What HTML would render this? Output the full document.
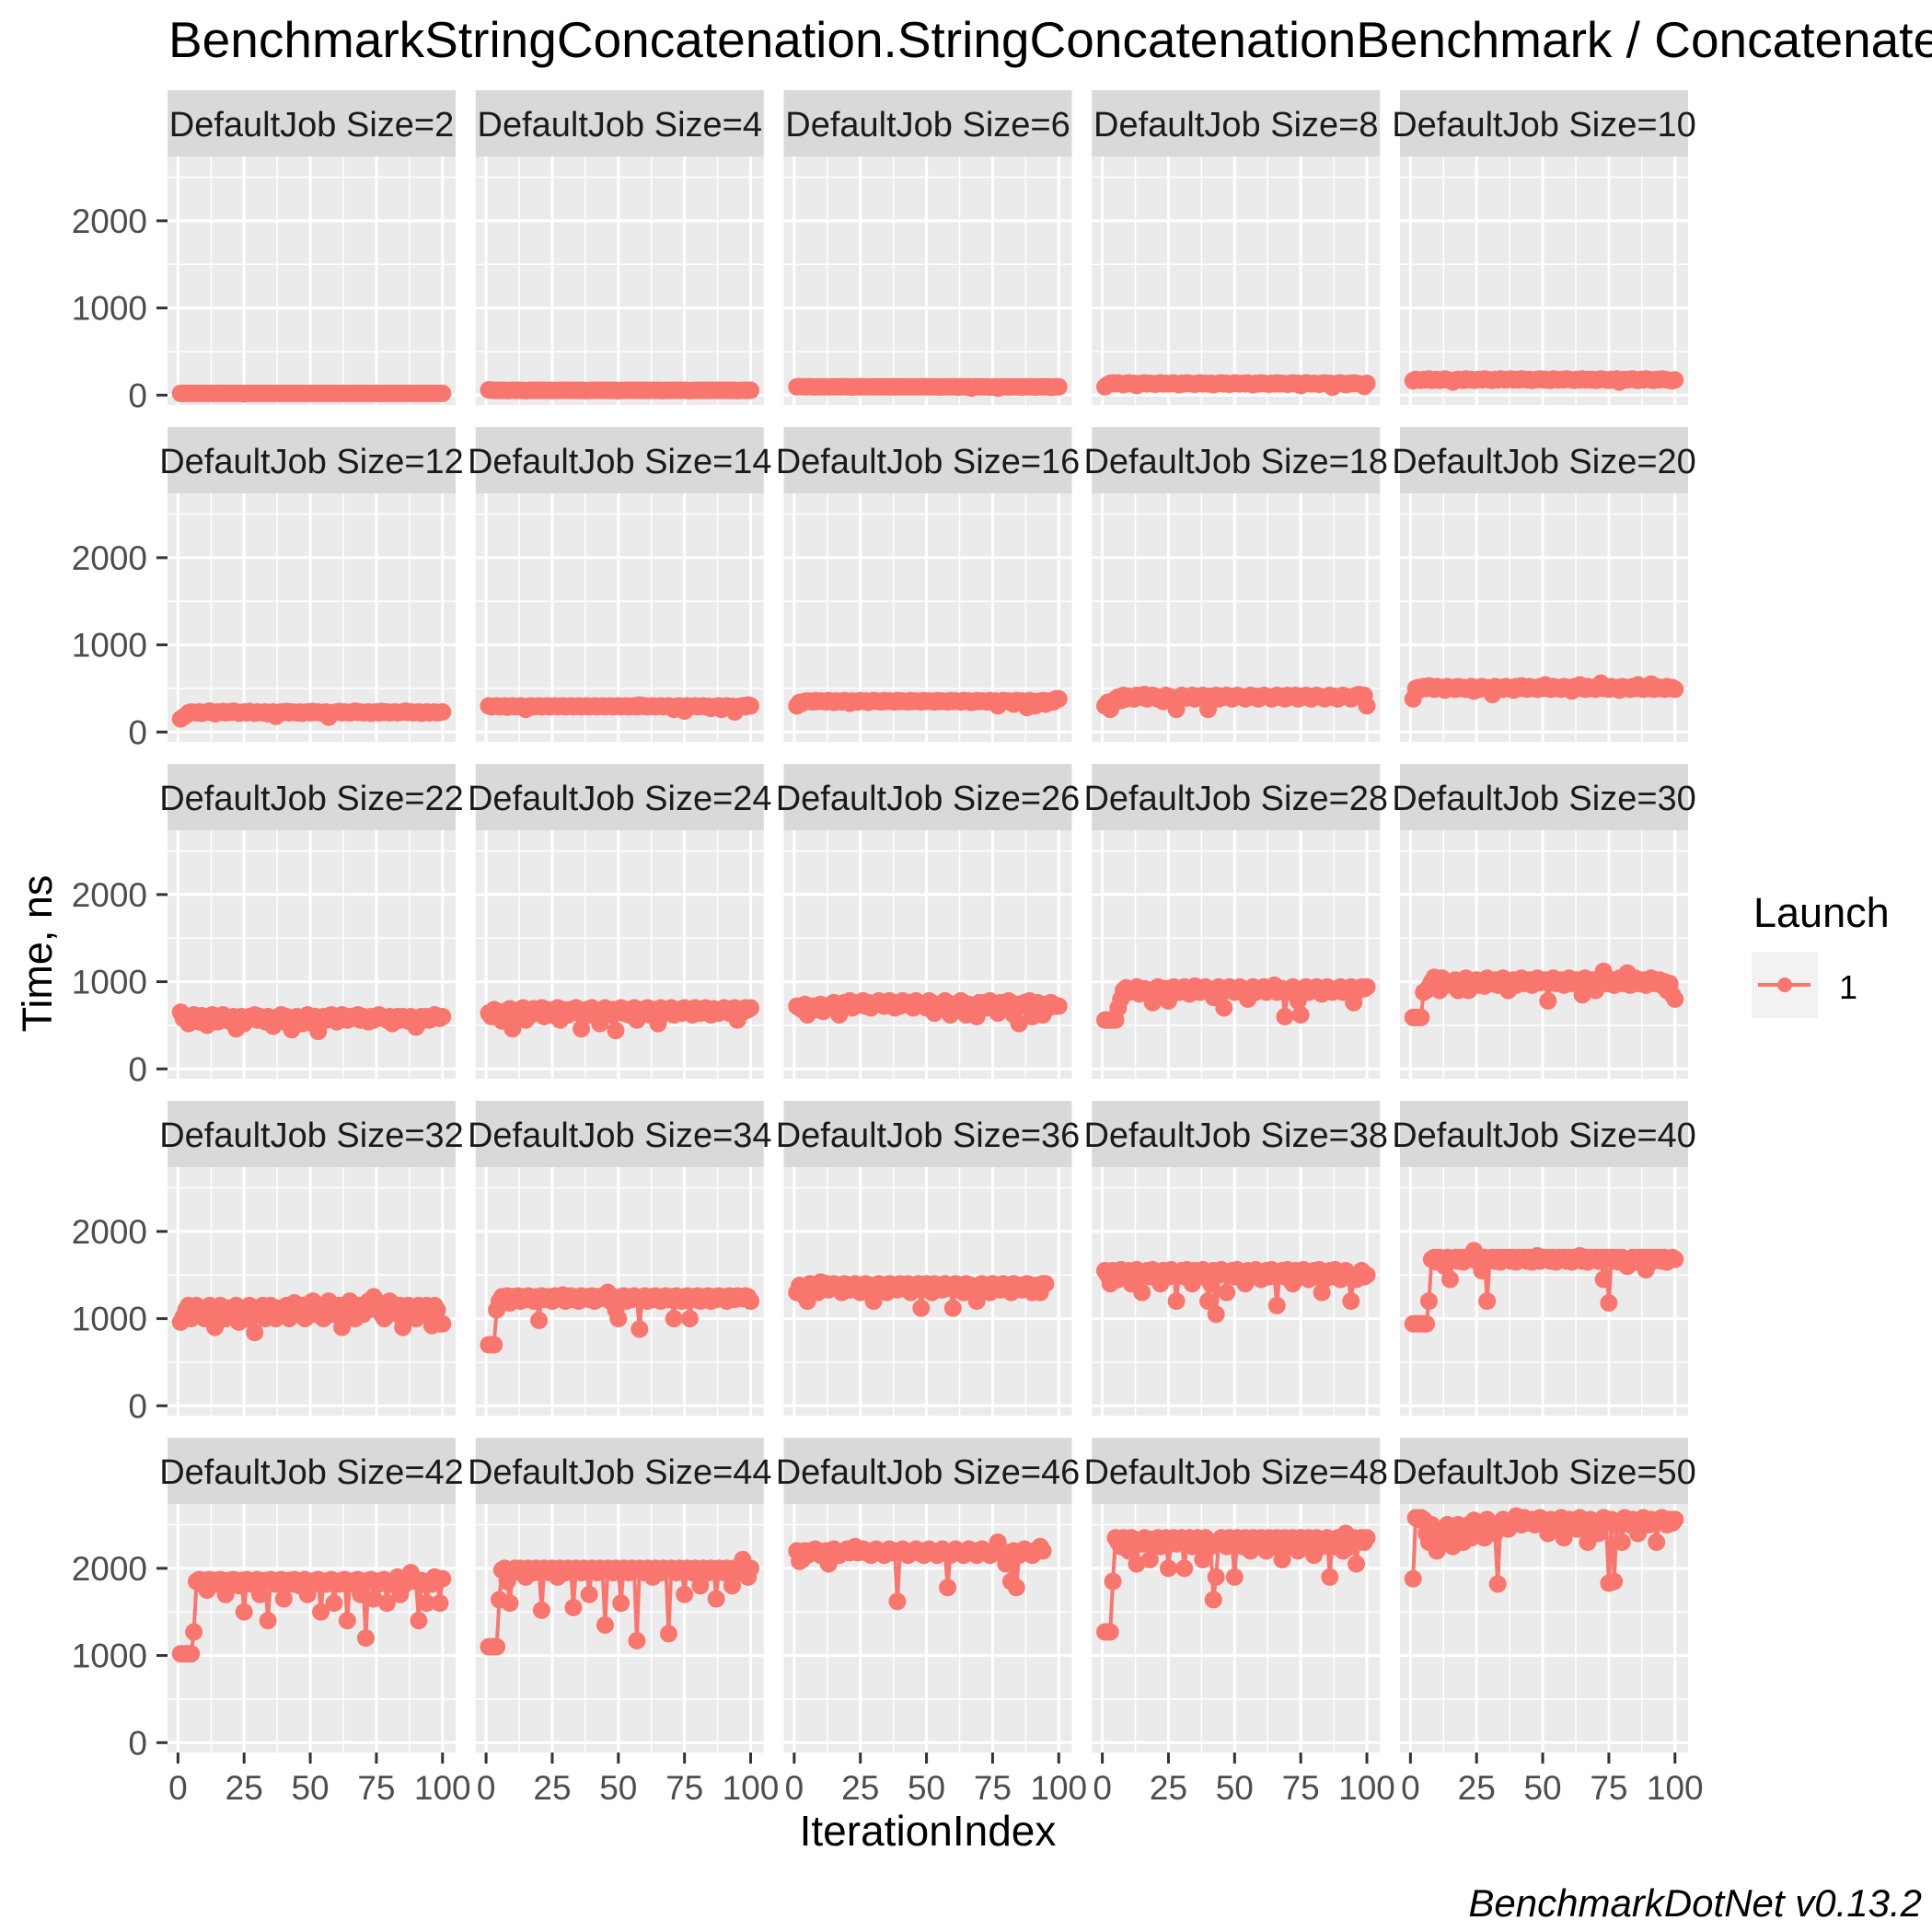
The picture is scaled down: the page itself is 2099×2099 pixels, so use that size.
<!DOCTYPE html>
<html><head><meta charset="utf-8"><style>
html,body{margin:0;padding:0;background:#fff;}
svg{display:block;font-family:"Liberation Sans",Arial,sans-serif;}
</style></head><body>
<svg id="chart" width="2099" height="2099" viewBox="0 0 2099 2099" xmlns="http://www.w3.org/2000/svg">
<rect x="0" y="0" width="2099" height="2099" fill="#fff"/>
<text x="183" y="62" font-size="55" fill="#000">BenchmarkStringConcatenation.StringConcatenationBenchmark / ConcatenateStringsWithPlus</text>
<g id="panels"></g>
<text transform="translate(56,1036) rotate(-90)" text-anchor="middle" font-size="45" fill="#000">Time, ns</text>
<text x="1008" y="2005" text-anchor="middle" font-size="46" fill="#000">IterationIndex</text>
<g>
<text x="1905" y="1007" font-size="45" fill="#000">Launch</text>
<rect x="1903" y="1034" width="72" height="72" fill="#F2F2F2"/>
<line x1="1910" y1="1070" x2="1967" y2="1070" stroke="#F8766D" stroke-width="4"/>
<circle cx="1939" cy="1070" r="8" fill="#F8766D"/>
<text x="1998" y="1085" font-size="36" fill="#000">1</text>
</g>
<text x="2088" y="2082" text-anchor="end" font-size="42" font-style="italic" fill="#000">BenchmarkDotNet v0.13.2</text>
</svg>
<script>
const sizes = [2,4,6,8,10,12,14,16,18,20,22,24,26,28,30,32,34,36,38,40,42,44,46,48,50];
const yTicks = [0,1000,2000];
const yTickLabels = ["0","1000","2000"];
const xTicks = [0,25,50,75,100];
const xTickLabels = ["0","25","50","75","100"];
const s2 = [20,20,21,20,20,20,21,20,20,20,20,20,20,20,20,20,21,20,20,20,20,20,20,20,15,20,20,20,20,20,20,20,20,20,20,20,20,20,20,20,20,20,20,20,20,20,20,20,20,20,20,20,20,20,20,20,20,20,20,20,20,20,20,20,20,20,20,20,20,20,20,20,20,20,20,20,20,20,20,20,20,20,20,20,20,20,20,20,20,20,20,20,20,20,20,20,20,20,20,20];
const s4 = [60,58,55,55,54,56,55,52,55,56,55,54,55,55,50,55,55,56,55,55,54,55,55,55,52,55,55,55,56,55,55,54,55,55,55,55,55,52,55,55,56,55,55,55,54,55,55,55,55,50,55,55,55,55,56,55,55,55,55,55,54,55,55,55,55,55,52,55,55,55,55,56,55,55,55,55,50,55,55,55,55,55,55,54,55,55,55,55,56,55,55,55,55,55,52,55,55,55,55,56];
const s6 = [95,98,96,95,95,97,95,93,95,96,95,95,94,95,96,95,95,95,97,95,95,92,95,96,95,95,95,94,95,95,96,95,95,95,95,93,95,95,96,95,95,95,95,95,94,95,95,95,96,95,95,95,95,95,92,95,95,95,95,95,95,90,95,95,95,95,80,95,95,95,95,94,95,92,95,95,80,95,95,95,93,95,95,95,95,90,95,95,95,95,92,95,95,95,95,95,88,95,95,95];
const s8 = [95,120,135,140,130,140,130,120,135,140,130,135,110,130,135,140,130,135,130,125,135,140,130,135,130,135,140,130,120,135,130,140,135,130,125,135,140,130,135,130,135,120,130,135,140,130,135,125,130,140,135,130,135,130,140,130,120,135,130,140,135,130,125,135,130,140,130,135,130,125,135,140,130,135,110,130,140,135,130,135,130,125,135,140,130,135,90,130,135,140,130,120,135,130,140,135,130,125,100,135];
const s10 = [165,180,175,170,180,175,185,170,175,180,170,175,185,175,170,150,175,180,175,170,185,175,180,170,175,180,175,185,180,175,170,180,175,185,180,175,180,185,175,180,175,185,180,175,180,170,175,180,185,175,180,175,170,185,180,175,180,175,185,180,175,170,180,175,185,175,180,175,180,170,175,185,180,175,170,180,175,185,150,175,180,175,180,185,175,170,180,175,185,180,175,170,180,175,185,180,175,170,165,175];
const s12 = [150,170,190,220,230,225,220,230,215,225,230,240,220,210,230,225,235,220,230,225,240,230,215,225,230,220,235,225,215,230,225,220,230,210,225,230,180,220,230,225,235,220,230,225,220,230,215,225,230,220,235,225,230,220,225,230,170,220,225,230,235,220,230,225,220,230,240,225,230,220,225,230,215,225,230,220,235,225,230,220,225,230,220,225,230,240,225,230,220,225,230,215,225,230,220,225,230,220,225,230];
const s14 = [300,290,295,300,290,295,300,285,295,300,290,295,300,290,260,295,300,290,295,300,290,295,300,290,295,300,290,295,300,290,295,300,290,295,300,290,295,300,290,295,300,290,295,300,290,295,300,290,295,300,290,295,300,290,295,300,290,310,295,300,290,295,300,290,295,300,290,295,300,290,260,295,300,290,240,300,290,295,300,290,295,300,290,295,270,290,295,300,260,295,300,290,295,230,290,295,300,290,310,300];
const s16 = [300,340,330,350,355,350,345,360,350,355,350,345,360,350,340,355,350,345,360,350,330,355,350,345,360,350,355,340,350,360,355,350,345,360,350,355,350,345,360,350,355,350,345,360,350,355,350,345,360,350,355,350,345,360,350,355,350,345,360,350,355,350,345,360,350,355,340,345,360,350,355,350,345,360,350,355,300,345,360,350,355,350,320,360,350,355,350,280,360,350,300,350,345,360,320,355,350,345,380,380];
const s18 = [300,340,260,320,380,400,360,420,380,410,400,380,420,410,400,430,380,400,420,410,380,400,350,420,410,400,380,260,400,420,410,390,400,420,380,410,400,420,380,260,410,400,420,380,410,400,420,410,380,400,420,410,400,380,410,420,400,410,380,400,420,410,400,380,410,420,400,410,380,420,400,410,420,380,410,400,420,410,380,400,420,410,400,380,410,420,400,410,380,400,420,410,400,380,410,420,430,400,420,300];
const s20 = [380,500,510,490,520,500,530,510,490,520,500,510,480,520,500,510,490,520,500,510,490,500,520,470,510,490,520,500,510,490,430,520,500,510,490,520,500,510,480,520,500,530,510,490,520,500,510,490,520,500,540,510,490,520,500,510,490,520,500,510,470,520,500,540,510,490,520,500,510,490,520,560,500,510,490,520,500,510,480,520,500,510,490,520,500,540,510,490,520,500,550,490,520,500,510,490,520,500,510,490];
const s22 = [650,580,600,520,560,620,600,540,610,580,500,600,620,580,540,600,620,560,590,540,600,460,580,600,520,560,600,580,620,560,600,580,540,600,560,490,580,600,620,540,600,560,450,590,600,580,520,600,620,560,520,600,430,580,600,560,600,620,580,540,600,620,580,560,600,580,600,620,560,600,580,540,600,560,580,620,600,580,560,600,520,580,600,560,600,580,550,600,560,480,580,600,560,600,560,580,620,600,580,600];
const s24 = [640,600,680,650,620,550,660,640,690,460,650,620,680,700,560,650,620,690,660,640,700,600,680,660,620,650,700,560,680,640,620,680,650,700,640,460,650,680,620,700,660,640,520,680,700,650,620,680,440,660,700,640,680,620,650,700,560,680,660,640,700,620,680,650,520,700,680,640,660,700,620,650,680,640,700,660,680,620,700,650,640,680,700,660,620,690,650,640,680,700,660,640,690,700,560,680,650,700,680,700];
const s26 = [720,700,680,740,620,700,720,700,680,740,660,700,720,740,760,700,620,720,760,740,780,700,720,760,740,780,720,760,700,740,760,780,740,720,760,780,740,700,760,720,780,740,760,720,700,780,760,740,720,700,780,760,640,740,700,720,780,760,620,740,720,700,780,760,620,740,700,720,600,760,740,760,700,780,760,720,640,760,740,700,780,760,620,740,520,720,760,740,780,600,700,760,720,620,740,700,760,740,720,720];
const s28 = [560,560,560,560,560,700,800,900,930,880,900,920,940,860,900,920,880,900,760,920,940,900,880,920,780,900,940,920,880,900,940,920,860,900,950,920,880,900,940,920,880,820,900,940,920,700,900,940,920,880,900,940,920,860,800,920,940,880,900,920,940,880,900,920,960,880,900,920,600,880,900,940,920,780,620,920,940,880,900,920,940,880,860,900,940,920,880,900,920,940,880,900,920,940,760,880,920,940,920,940];
const s30 = [590,590,590,590,880,900,940,1000,1050,980,900,1040,1000,960,980,1000,1020,900,980,1000,1040,900,980,1000,1020,960,1000,950,1040,1000,980,1020,960,1000,1040,980,900,1000,1020,960,1000,1040,980,1000,1020,960,1000,1040,990,1000,1020,780,1000,1040,980,1000,1020,960,1000,1040,980,1000,1020,960,850,1040,980,1000,1020,900,960,1000,1120,980,1000,1020,960,1000,1040,980,1000,1100,960,1000,1040,980,1000,1020,960,1000,1040,980,1000,1020,960,1000,900,980,850,800];
const s32 = [960,1020,1100,1150,1000,1100,1150,1050,1120,1000,1080,1150,1100,900,1050,1150,1100,1000,1120,1050,1100,1150,960,1050,1100,1000,1150,1100,840,1050,1100,1150,1000,1050,1150,1100,1000,1120,1050,1100,1150,1000,1100,1180,1050,1100,1150,1000,1100,1180,1200,1050,1100,1150,1000,1100,1200,1150,1050,1100,1150,900,1050,1100,1200,1150,1000,1100,1150,1050,1100,1200,1150,1250,1100,1180,1050,1000,1100,1200,1150,1100,1050,1150,900,1100,1150,1050,1100,1000,1150,1100,1050,1150,1100,920,1150,1100,940,940];
const s34 = [700,700,700,1100,1200,1250,1220,1260,1180,1250,1230,1260,1200,1250,1220,1260,1240,1200,1250,980,1260,1220,1250,1240,1200,1260,1250,1230,1270,1200,1250,1260,1220,1250,1200,1260,1240,1250,1220,1260,1200,1250,1230,1260,1250,1300,1200,1250,1100,1000,1250,1260,1200,1250,1220,1260,1240,880,1250,1260,1200,1250,1220,1260,1240,1200,1250,1260,1220,1250,1000,1260,1240,1200,1250,1260,1000,1250,1220,1260,1200,1250,1230,1260,1200,1250,1220,1260,1240,1250,1200,1260,1250,1220,1260,1250,1230,1260,1250,1200];
const s36 = [1300,1380,1280,1350,1200,1400,1350,1380,1300,1420,1350,1400,1330,1380,1400,1350,1380,1300,1400,1350,1330,1380,1400,1350,1300,1380,1400,1350,1380,1200,1330,1400,1350,1380,1300,1400,1350,1380,1330,1400,1350,1380,1400,1300,1350,1380,1400,1120,1350,1400,1380,1300,1400,1350,1380,1330,1400,1350,1380,1120,1400,1350,1380,1300,1400,1350,1380,1330,1200,1380,1400,1350,1380,1300,1400,1350,1380,1330,1400,1350,1380,1300,1400,1350,1380,1330,1380,1400,1350,1300,1380,1350,1300,1400,1400];
const s38 = [1550,1500,1400,1550,1500,1450,1560,1520,1480,1550,1400,1500,1560,1520,1300,1500,1550,1480,1560,1520,1500,1400,1550,1520,1480,1560,1500,1200,1520,1550,1480,1560,1500,1400,1550,1520,1480,1560,1500,1200,1400,1550,1050,1500,1560,1520,1300,1500,1550,1480,1560,1520,1500,1400,1550,1520,1480,1560,1500,1450,1520,1550,1480,1560,1500,1150,1520,1550,1480,1560,1500,1400,1550,1520,1480,1560,1500,1450,1520,1550,1480,1560,1300,1450,1520,1550,1480,1560,1500,1450,1520,1550,1480,1200,1500,1450,1520,1550,1480,1500];
const s40 = [940,940,940,940,940,940,1200,1680,1700,1650,1700,1660,1600,1700,1450,1680,1700,1660,1700,1650,1700,1680,1720,1780,1660,1700,1550,1700,1200,1680,1700,1660,1700,1650,1700,1680,1700,1660,1700,1650,1700,1680,1700,1660,1700,1650,1700,1720,1660,1700,1680,1700,1660,1700,1650,1700,1680,1700,1660,1700,1650,1700,1680,1720,1660,1700,1650,1700,1680,1700,1660,1700,1450,1700,1180,1700,1660,1700,1650,1700,1680,1600,1660,1700,1650,1700,1680,1700,1560,1700,1650,1700,1680,1700,1660,1700,1650,1680,1700,1680];
const s42 = [1020,1020,1020,1020,1020,1270,1850,1870,1820,1860,1750,1870,1840,1860,1820,1870,1850,1700,1860,1820,1870,1850,1800,1860,1500,1870,1850,1820,1860,1870,1700,1850,1860,1400,1870,1850,1820,1860,1870,1650,1850,1860,1820,1870,1850,1800,1860,1870,1700,1850,1820,1860,1870,1500,1850,1820,1860,1870,1600,1850,1820,1860,1870,1400,1850,1820,1860,1870,1700,1850,1200,1860,1870,1650,1850,1820,1860,1870,1600,1850,1820,1860,1900,1700,1850,1820,1860,1950,1870,1850,1400,1860,1820,1600,1850,1820,1900,1860,1600,1880];
const s44 = [1100,1100,1100,1100,1640,1980,2000,1850,1600,1980,2000,1960,2000,1980,1900,2000,1980,1950,2000,1980,1520,2000,1980,1950,2000,1980,1900,2000,1980,1950,2000,1980,1550,2000,1980,1950,2000,1980,1700,2000,1980,1950,2000,1980,1350,2000,1980,1950,2000,1980,1600,2000,1980,1950,2000,1980,1170,2000,1980,1950,2000,1980,1900,2000,1980,1950,2000,1980,1250,2000,1980,1950,2000,1980,1700,2000,1980,1950,2000,1980,1800,2000,1980,1950,2000,1980,1650,2000,1980,1950,2000,1980,1800,2000,1980,1950,2100,1980,1900,2000];
const s46 = [2200,2080,2100,2200,2150,2200,2180,2220,2200,2150,2180,2200,2050,2180,2220,2200,2150,2180,2200,2220,2180,2200,2250,2180,2200,2220,2180,2200,2150,2180,2220,2200,2180,2150,2200,2220,2180,2200,1620,2180,2220,2200,2150,2180,2200,2220,2180,2200,2150,2180,2220,2200,2180,2150,2200,2220,2180,1780,2150,2180,2220,2200,2180,2150,2200,2220,2180,2200,2150,2180,2220,2200,2180,2150,2200,2220,2300,2180,2150,2050,2180,1850,2200,1780,2150,2180,2220,2200,2180,2150,2200,2220,2250,2200];
const s48 = [1270,1270,1270,1850,2350,2300,2250,2350,2300,2200,2350,2300,2050,2320,2280,2350,2300,2100,2330,2300,2350,2250,2300,2350,2000,2300,2350,2280,2300,2350,2000,2300,2350,2250,2300,2350,2300,2100,2350,2300,2250,1640,1900,2300,2350,2300,2250,2350,2300,1900,2350,2300,2250,2350,2300,2200,2350,2300,2250,2350,2300,2200,2350,2300,2250,2350,2300,2100,2350,2300,2250,2350,2300,2200,2350,2300,2250,2350,2300,2150,2350,2300,2250,2300,2350,1900,2300,2250,2350,2300,2200,2400,2300,2250,2350,2050,2300,2350,2300,2350];
const s50 = [1880,2580,2560,2580,2560,2400,2300,2500,2400,2200,2350,2450,2300,2500,2400,2250,2350,2500,2450,2300,2400,2500,2350,2550,2450,2500,2400,2350,2560,2500,2450,2400,1820,2500,2560,2500,2450,2520,2550,2600,2520,2500,2580,2550,2520,2560,2500,2540,2580,2520,2500,2400,2560,2520,2500,2540,2580,2350,2520,2560,2500,2540,2450,2580,2520,2500,2300,2560,2520,2500,2400,2540,2580,2520,1830,2560,1850,2500,2540,2300,2580,2520,2500,2560,2520,2400,2540,2580,2520,2500,2560,2520,2300,2540,2580,2520,2500,2560,2520,2560];
const series = [s2,s4,s6,s8,s10,s12,s14,s16,s18,s20,s22,s24,s26,s28,s30,s32,s34,s36,s38,s40,s42,s44,s46,s48,s50];

const NS = "http://www.w3.org/2000/svg";
const root = document.getElementById("panels");
const PW = 313, PH = 270, COLP = 334.75, ROWP = 366;
const XMIN = -3.95, XMAX = 104.95, YMIN = -113, YMAX = 2738;
function colLeft(c){ return 182 + COLP*c; }
function panelTop(r){ return 170 + ROWP*r; }
function xScale(v, c){ return colLeft(c) + (v - XMIN) / (XMAX - XMIN) * PW; }
function yScale(v, r){ return panelTop(r) + PH - (v - YMIN) / (YMAX - YMIN) * PH; }
function mk(tag, attrs){ const e = document.createElementNS(NS, tag); for (const k in attrs) e.setAttribute(k, attrs[k]); return e; }

sizes.forEach((sz, i) => {
  const c = i % 5, r = Math.floor(i / 5);
  const L = colLeft(c), T = panelTop(r);
  const g = mk("g", {});
  
  
  const strip = mk("rect", {x: L, y: T - 72, width: PW, height: 72, fill: "#D9D9D9"});
  
  
  g.appendChild(strip);
  const st = mk("text", {x: L + PW/2, y: T - 22, "text-anchor": "middle", "font-size": 38, fill: "#1A1A1A"});
  
  
  st.textContent = "DefaultJob Size=" + sz;
  g.appendChild(st);
  const bg = mk("rect", {x: L, y: T, width: PW, height: PH, fill: "#EBEBEB"});
  
  
  g.appendChild(bg);
  [500,1500,2500].forEach(v => { const y = yScale(v, r); g.appendChild(mk("line", {x1: L, x2: L+PW, y1: y, y2: y, stroke: "#fff", "stroke-width": 1.5})); });
  [12.5,37.5,62.5,87.5].forEach(v => { const x = xScale(v, c); g.appendChild(mk("line", {x1: x, x2: x, y1: T, y2: T+PH, stroke: "#fff", "stroke-width": 1.5})); });
  yTicks.forEach(v => { const y = yScale(v, r); g.appendChild(mk("line", {x1: L, x2: L+PW, y1: y, y2: y, stroke: "#fff", "stroke-width": 3})); });
  xTicks.forEach(v => { const x = xScale(v, c); g.appendChild(mk("line", {x1: x, x2: x, y1: T, y2: T+PH, stroke: "#fff", "stroke-width": 3})); });
  const vals = series[i];
  const pts = vals.map((v, k) => xScale(k + 1, c).toFixed(1) + "," + yScale(v, r).toFixed(1)).join(" ");
  const line = mk("polyline", {points: pts, fill: "none", stroke: "#F8766D", "stroke-width": 4, "stroke-linejoin": "round"});
  
  
  g.appendChild(line);
  vals.forEach((v, k) => {
    const p = mk("circle", {cx: xScale(k + 1, c), cy: yScale(v, r), r: 9.5, fill: "#F8766D"});
    
    
    g.appendChild(p);
  });
  if (c === 0) {
    yTicks.forEach((v, j) => {
      const y = yScale(v, r);
      g.appendChild(mk("line", {x1: L - 12, x2: L, y1: y, y2: y, stroke: "#333", "stroke-width": 3}));
      const t = mk("text", {x: L - 22, y: y + 13, "text-anchor": "end", "font-size": 37, fill: "#4D4D4D"});
      
      
      t.textContent = yTickLabels[j];
      g.appendChild(t);
    });
  }
  if (r === 4) {
    xTicks.forEach((v, j) => {
      const x = xScale(v, c);
      g.appendChild(mk("line", {x1: x, x2: x, y1: T + PH, y2: T + PH + 12, stroke: "#333", "stroke-width": 3}));
      const t = mk("text", {x: x, y: T + PH + 51, "text-anchor": "middle", "font-size": 37, fill: "#4D4D4D"});
      
      
      t.textContent = xTickLabels[j];
      g.appendChild(t);
    });
  }
  root.appendChild(g);
});
</script>
</body></html>
